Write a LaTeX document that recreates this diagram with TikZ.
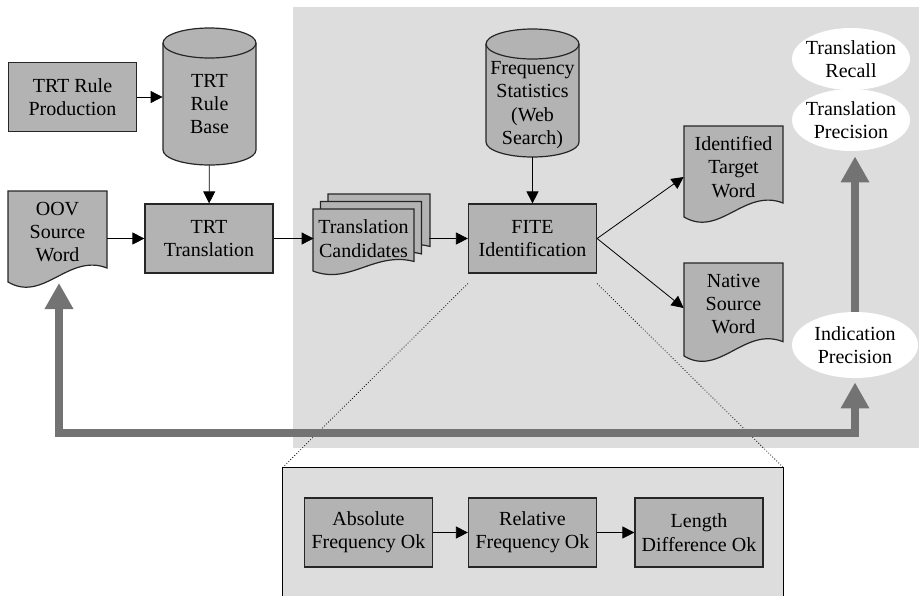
\documentclass[tikz,border=0pt]{standalone}
\usepackage{fontspec}
\setmainfont{Liberation Serif}
\usetikzlibrary{arrows.meta,shapes.geometric}
\definecolor{panelgray}{HTML}{DDDDDD}
\definecolor{boxgray}{HTML}{B3B3B3}
\definecolor{flowgray}{HTML}{737373}
\tikzset{
  box_n/.style = {rectangle, draw=black!85, fill=boxgray, line width=0.6pt,
    align=center, inner sep=0pt},
  proc_n/.style = {box_n, minimum width=64pt, minimum height=34.5pt},
  db_n/.style = {align=center, inner sep=0pt, minimum width=46.5pt},
  doc_n/.style = {align=center, inner sep=0pt, minimum width=49.5pt},
  doc_line/.style = {-, draw=black!85, fill=boxgray, line width=0.6pt},
  eval_n/.style = {ellipse, fill=white, align=center, inner xsep=-2pt,
    inner ysep=0pt, minimum width=59pt, minimum height=31pt},
  panel_n/.style = {rectangle, fill=panelgray, minimum width=250pt,
    minimum height=70pt},
  flow/.style = {draw=flowgray, line width=4pt},
  zoomline/.style = {-, densely dotted, line width=0.4pt}}
\newcommand{\flowtip}{Triangle[length=13pt,width=13.5pt]}
% page with a wavy lower edge: left, top, width, height of the left side
\newcommand{\docsheet}[4]{%
  \filldraw[doc_line] (#1,#2) -- ({#1+#3},#2) -- ({#1+#3},{#2+0.846*#4})
    .. controls ({#1+0.61*#3},{#2+0.68*#4}) and ({#1+0.36*#3},{#2+1.23*#4})
    .. (#1,{#2+#4}) -- cycle;}
% drum for a data store: left, top, width, height
\newcommand{\dbdrum}[4]{%
  \filldraw[doc_line] (#1,{#2+15}) -- (#1,{#2+#4-15})
    arc[start angle=180, end angle=360, x radius=#3*0.25pt, y radius=7.5pt]
    -- ({#1+#3},{#2+15})
    arc[start angle=0, end angle=180, x radius=#3*0.25pt, y radius=7.5pt] -- cycle;
  \draw[doc_line, fill=none] (#1,{#2+15})
    arc[start angle=180, end angle=360, x radius=#3*0.25pt, y radius=7.5pt];}

\begin{document}
\begin{tikzpicture}[x=0.5pt, y=-0.5pt, ->, >={Triangle[length=6pt,width=6pt]},
  font=\fontsize{10}{11.7}\selectfont]
\useasboundingbox (0,0) rectangle (919,595);
\fill[panelgray] (293,7) rectangle (919,448);

% rule side
\node [proc_n] (prod) at (72.5,97) {TRT Rule\\Production};
\dbdrum{163}{28}{93}{137}
\node [db_n, minimum height=61pt] (rulebase) at (209.5,104) {TRT\\Rule\\Base};
\docsheet{8}{191}{99}{91}
\node [doc_n] (oov) at (57.5,232) {OOV\\Source\\Word};
\node [proc_n] (trt) at (209,238.5) {TRT\\Translation};

% identification
\docsheet{328}{194}{102}{62}
\docsheet{320.5}{201.5}{101}{62}
\docsheet{313}{209}{101}{62}
\node [doc_n] (cand) at (363.5,238.5) {Translation\\Candidates};
\node [proc_n] (fite) at (532.5,238.5) {FITE\\Identification};
\dbdrum{486}{29}{93}{128}
\node [db_n, minimum height=52pt] (freq) at (532.5,105)
  {Frequency\\Statistics\\(Web\\Search)};
\docsheet{684}{126}{99}{91}
\node [doc_n] (ident) at (733.5,167) {Identified\\Target\\Word};
\docsheet{684}{263}{99}{93}
\node [doc_n] (native) at (733.5,304) {Native\\Source\\Word};

% evaluation
\node [eval_n] (trec) at (851,59) {Translation\\Recall};
\node [eval_n] (tprec) at (851,120) {Translation\\Precision};
\node [eval_n, minimum width=63pt, minimum height=33pt] (indp) at (855,345)
  {Indication\\Precision};

% FITE in detail, open at the bottom
\node [panel_n] (fitebox) at (533,538) {};
\draw [-, line width=0.6pt] (fitebox.south west) -- (fitebox.north west)
  -- (fitebox.north east) -- (fitebox.south east);
\node [proc_n] (absf) at (368.5,532.5) {Absolute\\Frequency Ok};
\node [proc_n] (relf) at (532.5,532.5) {Relative\\Frequency Ok};
\node [proc_n] (lend) at (699,532.5) {Length\\Difference Ok};

\draw (prod.east) -- (prod.east -| rulebase.west);
\draw (rulebase) -- (trt);
\draw (oov.east |- trt.west) -- (trt.west);
\draw (trt) -- (cand);
\draw ([xshift=8pt]cand.east) -- (fite.west);
\draw (freq) -- (fite);
\draw (fite.east) -- ([yshift=-5pt]ident.west);
\draw (fite.east) -- ([yshift=-2pt]native.west);
\draw (absf) -- (relf);
\draw (relf) -- (lend);

\draw [zoomline] ([yshift=-5pt]fite.south west) -- (fitebox.north west);
\draw [zoomline] ([yshift=-5pt]fite.south east) -- (fitebox.north east);

\coordinate (oovtip) at (59,283);
\draw [flow, -{\flowtip}, shorten >=2.5pt] (indp.north) -- (indp.north |- tprec.south);
\draw [flow, {\flowtip}-{\flowtip}, shorten >=2pt] (oovtip) -- ++(0,150) -| (indp.south);
\end{tikzpicture}
\end{document}
